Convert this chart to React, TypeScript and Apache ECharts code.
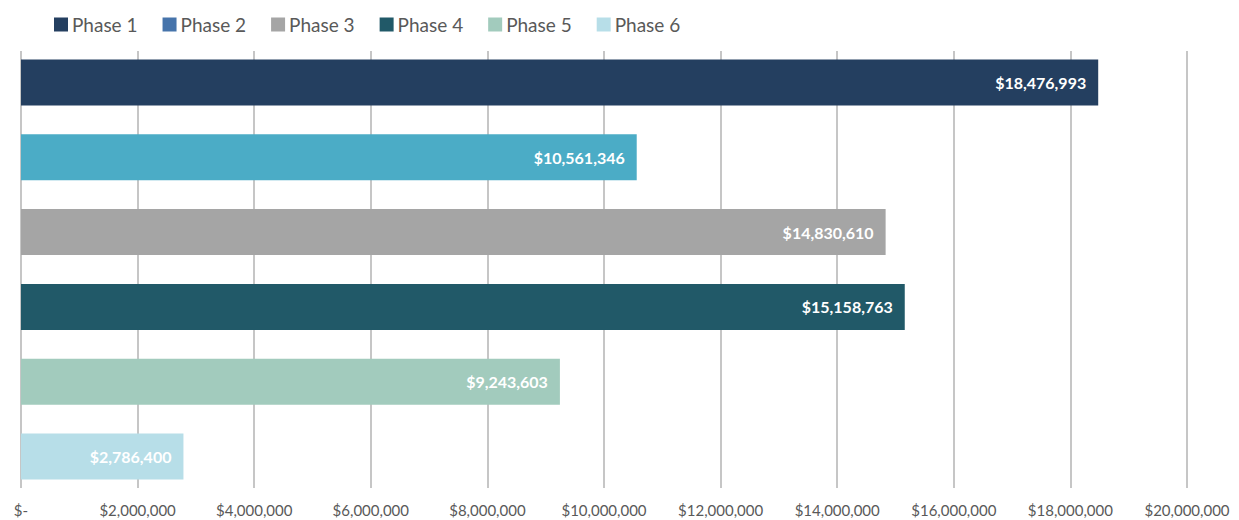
import React, { useEffect, useRef } from "react";
import * as echarts from "echarts";

const categories = ["Phase 1", "Phase 2", "Phase 3", "Phase 4", "Phase 5", "Phase 6"];
const values = [18476993, 10561346, 14830610, 15158763, 9243603, 2786400];
const barColors = ["#243F60", "#4BACC6", "#A5A5A5", "#215968", "#A2CBBD", "#B7DEE8"];
const legendColors = ["#243F60", "#4674AB", "#A5A5A5", "#215968", "#A2CBBD", "#B7DEE8"];
const axisMax = 20000000;
const axisInterval = 2000000;

const fmt = (v: number) => "$" + Math.round(v).toLocaleString("en-US");

export default function App() {
  const ref = useRef<HTMLDivElement>(null);
  useEffect(() => {
    const chart = echarts.init(ref.current!, null, { renderer: "svg" });
    const series = categories.map((name, i) => ({
      name,
      type: "bar",
      barWidth: 46,
      barGap: "-95.7%",
      itemStyle: { color: barColors[i] },
      data: categories.map((_, j) => (j === i ? values[i] : null)),
      label: {
        show: true,
        position: "insideRight",
        distance: 12,
        color: "#FFFFFF",
        fontFamily: "Lato",
        fontWeight: "bold",
        fontSize: 16,
        formatter: (p: any) => fmt(p.value),
      },
    }));
    chart.setOption({
      animation: false,
      legend: {
        left: 49,
        top: 10,
        itemWidth: 14,
        itemHeight: 14,
        itemGap: 25,
        icon: "rect",
        textStyle: { fontFamily: "Lato", fontSize: 19, color: "#595959", padding: [0, 0, 0, -1] },
        data: categories.map((name, i) => ({ name, itemStyle: { color: legendColors[i] } })),
      },
      grid: { left: 21, right: 52, top: 51, bottom: 32, containLabel: false },
      xAxis: {
        type: "value",
        min: 0,
        max: axisMax,
        interval: axisInterval,
        axisLine: { show: false },
        axisTick: { show: false },
        splitLine: { show: true, lineStyle: { color: "#C6C6C6", width: 2 } },
        axisLabel: {
          fontFamily: "Lato",
          fontSize: 15,
          color: "#595959",
          margin: 14,
          formatter: (v: number) => (v === 0 ? "$-" : fmt(v)),
        },
      },
      yAxis: {
        type: "category",
        inverse: true,
        data: categories,
        axisLine: { show: false },
        axisTick: { show: false },
        axisLabel: { show: false },
        splitLine: { show: false },
      },
      series,
    });
    return () => chart.dispose();
  }, []);
  return (
    <div
      ref={ref}
      style={{ position: "fixed", left: 0, top: 0, width: 1239, height: 520, background: "#fff" }}
    />
  );
}
